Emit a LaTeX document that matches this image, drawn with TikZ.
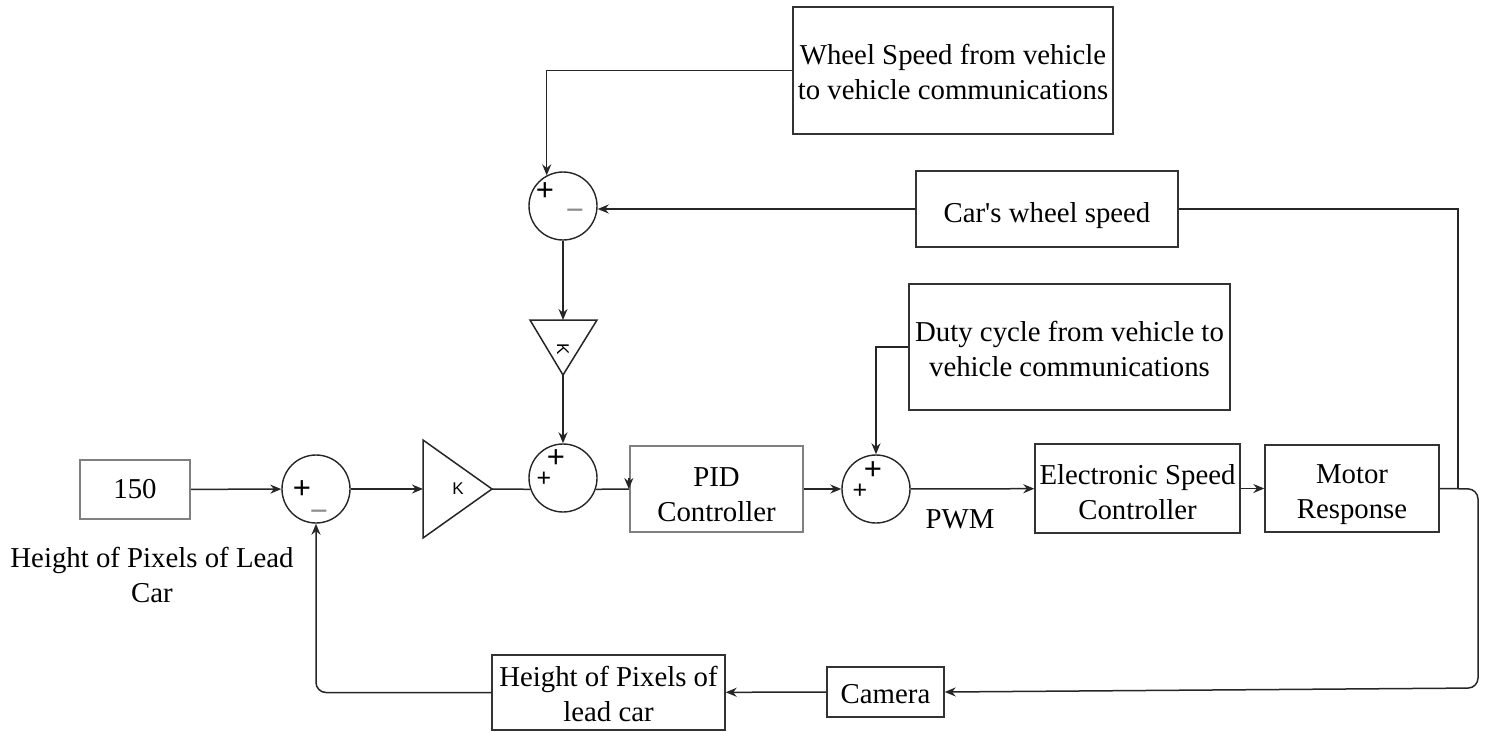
\documentclass[tikz,border=0pt]{standalone}
\usepackage{fontspec}
\setmainfont{Liberation Serif}
\newfontfamily\quotefont{Liberation Serif}
\newfontfamily\signfont{Liberation Sans}
\usetikzlibrary{arrows.meta}
% invisible strut that lowers the first line of a box label
\newcommand\boxtop[1]{\rule{0pt}{#1}}
\begin{document}
\begin{tikzpicture}[x=1pt,y=-1pt,
  wire/.style={line width=1.5pt, draw=black!85},
  arr/.style={wire, -{Stealth[length=11pt,width=9pt]}},
  blk/.style={draw=black!80, line width=1.4pt, fill=white, align=center,
              inner sep=0pt, font=\fontsize{28.8}{35}\selectfont},
  gblk/.style={blk, draw=black!50, line width=2.4pt},
  sumj/.style={circle, draw=black!85, line width=1.4pt, minimum size=68pt, inner sep=0pt},
  bigplus/.style={font=\signfont\fontsize{31}{31}\selectfont, inner sep=0pt},
  smallplus/.style={font=\signfont\fontsize{25}{25}\selectfont, inner sep=0pt},
  minussign/.style={font=\signfont\fontsize{31}{31}\selectfont, inner sep=0pt, text=black!45},
  gaintxt/.style={font=\signfont\fontsize{17}{17}\selectfont, inner sep=0pt},
  plain/.style={align=center, inner sep=0pt, font=\fontsize{28.8}{35}\selectfont}
]
\useasboundingbox (0,0) rectangle (1486,731);
\fill[white] (0,0) rectangle (1486,731);

% ---- blocks ----
\node[gblk, minimum width=110pt, minimum height=59pt] (b150) at (135,489.5) {150};
\node[plain] (reflbl) at (152,574.5) {Height of Pixels of Lead\\Car};
\node[gblk, minimum width=173pt, minimum height=86pt] (pid) at (716.5,489) {\boxtop{30pt}PID\\Controller};
\node[blk, minimum width=321pt, minimum height=126pt] (duty) at (1069.5,347) {\boxtop{25pt}Duty cycle from vehicle to\\vehicle communications};
\node[blk, minimum width=205pt, minimum height=89pt] (esc) at (1137.5,488.5) {\boxtop{28pt}Electronic Speed\\Controller};
\node[blk, minimum width=174pt, minimum height=87pt] (motor) at (1352,488.5) {\boxtop{31pt}Motor\\Response};
\node[blk, minimum width=320pt, minimum height=127pt] (wheel) at (953,70.5) {\boxtop{24pt}Wheel Speed from vehicle\\to vehicle communications};
\node[blk, minimum width=262pt, minimum height=76pt] (cws) at (1047,209) {\boxtop{34pt}Car{\quotefont'}s wheel speed};
\node[blk, minimum width=117pt, minimum height=50pt] (cam) at (885.5,692) {\boxtop{24pt}Camera};
\node[blk, minimum width=233pt, minimum height=75pt] (hpx) at (608.5,692.5) {\boxtop{24pt}Height of Pixels of\\lead car};
\node[plain] (pwm) at (960,519) {PWM};

% ---- summing junctions ----
\node[sumj] (s1) at (316,489) {};
\node[bigplus] (s1p) at (302,490) {+};
\node[minussign] (s1m) at (319,516) {\char"2212};

\node[sumj] (s2) at (563,478) {};
\node[bigplus] (s2p) at (556,459) {+};
\node[smallplus] (s2q) at (544,479) {+};

\node[sumj] (s3) at (876,489) {};
\node[bigplus] (s3p) at (873,471) {+};
\node[smallplus] (s3q) at (860,491) {+};

\node[sumj] (s4) at (563,206) {};
\node[bigplus] (s4p) at (545,192) {+};
\node[minussign] (s4m) at (575,215) {\char"2212};

% ---- gain blocks ----
\draw[wire, fill=white] (423,440) -- (492,489) -- (423,538) -- cycle;
\coordinate (k1in) at (423,489);
\coordinate (k1out) at (492,489);
\node[gaintxt] (k1) at (458,489) {K};

\draw[wire, fill=white] (530,320) -- (597,320) -- (563,375) -- cycle;
\coordinate (k2in) at (563,320);
\coordinate (k2out) at (563,375);
\node[gaintxt, rotate=-90] (k2) at (563,349) {K};

% ---- forward path ----
\draw[arr] (b150) -- (s1);
\draw[arr] (s1) -- (k1in);
\draw[wire] (k1out) -- (s2.199);
\draw[wire] (s2.341) -- (pid.west);
\draw[arr] ([yshift=11pt]pid.west) -- (pid.west);
\draw[arr] (pid) -- (s3);
\draw[arr] (s3) -- (esc);
\draw[arr] (esc) -- (motor);

% ---- feed-forward inputs ----
\draw[arr] (duty.west) -| (s3.north);
\draw[arr] (wheel.west) -| (s4.118);
\draw[arr] (cws.west) -- (s4.east |- cws.west);
\draw[arr] (s4) -- (k2in);
\draw[arr] (k2out) -- (s2.north);

% ---- feedback loops ----
\coordinate (tapR) at (1458,489);
\draw[wire] (cws.east) -| (tapR);
\coordinate (rtop) at (1478,489);
\coordinate (rbot) at (1478,688);
\draw[arr, rounded corners=10pt] (motor.east) -- (rtop) -- (rbot) -- (cam.east);
\draw[arr] (cam) -- (hpx);
\draw[arr, rounded corners=10pt] (hpx.west) -| (s1.south);
\end{tikzpicture}
\end{document}
